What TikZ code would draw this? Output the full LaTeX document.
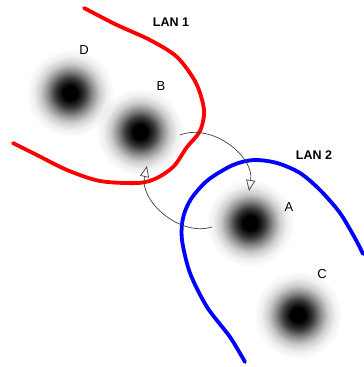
\documentclass[tikz,border=0pt]{standalone}
\usepackage{xcolor}
\usepackage{fontspec}
\setmainfont{Liberation Sans}
\usepackage{tikz}
\usetikzlibrary{arrows.meta}
\pgfdeclareradialshading{hostglow}{\pgfpoint{0bp}{0bp}}{color(0bp)=(black); color(4bp)=(black); color(8bp)=(black!78); color(12bp)=(black!46); color(16bp)=(black!20); color(20bp)=(black!6); color(24bp)=(white); color(50bp)=(white)}

\begin{document}
\begin{tikzpicture}[x=1pt,y=-1pt,
    host/.style={circle,minimum size=92pt,inner sep=0pt,shade,shading=hostglow},
    lan/.style={line width=3.8pt,line cap=round,line join=round},
    hop/.style={draw=black!75,line width=0.7pt,-{Triangle[open,length=11pt,width=9pt]}},
    tag/.style={font=\fontsize{13}{15}\selectfont},
    lantag/.style={font=\bfseries\fontsize{12.5}{15}\selectfont}]
    \useasboundingbox (0,0) rectangle (364,367);

    % hosts
    \begin{scope}[blend mode=multiply]
    \node[host] (hD) at (70,93) {};
    \node[host] (hB) at (140,132) {};
    \node[host] (hA) at (250,223) {};
    \node[host] (hC) at (298,315) {};
    \end{scope}

    % lan borders
    \draw[lan,red] plot[smooth] coordinates {(84,8) (117,25) (150,40) (177,57) (196,83) (204,110) (200,131) (187,147) (174,166) (157,178) (138,183) (100,181) (67,170) (35,154) (13,143)};
    \draw[lan,blue] plot[smooth] coordinates {(245,362) (230,337) (207,307) (190,273) (182,240) (183,218) (191,199) (208,180) (233,165) (254,160) (277,163) (300,173) (320,190) (340,213) (356,240) (363,254)};

    % labels
    \node[tag] (lD) at (84,50) {D};
    \node[tag] (lB) at (161,86) {B};
    \node[tag] (lA) at (289,207) {A};
    \node[tag] (lC) at (322,274) {C};
    \node[lantag] (lan1) at (171,22) {LAN 1};
    \node[lantag] (lan2) at (314,155) {LAN 2};

    % hops
    \coordinate (t1) at (180,135);
    \coordinate (h1) at (249,191);
    \coordinate (t2) at (212,227);
    \coordinate (h2) at (147,166);
    \draw[hop] (t1) to[bend left=60] (h1);
    \draw[hop] (t2) to[bend left=60] (h2);
\end{tikzpicture}
\end{document}
